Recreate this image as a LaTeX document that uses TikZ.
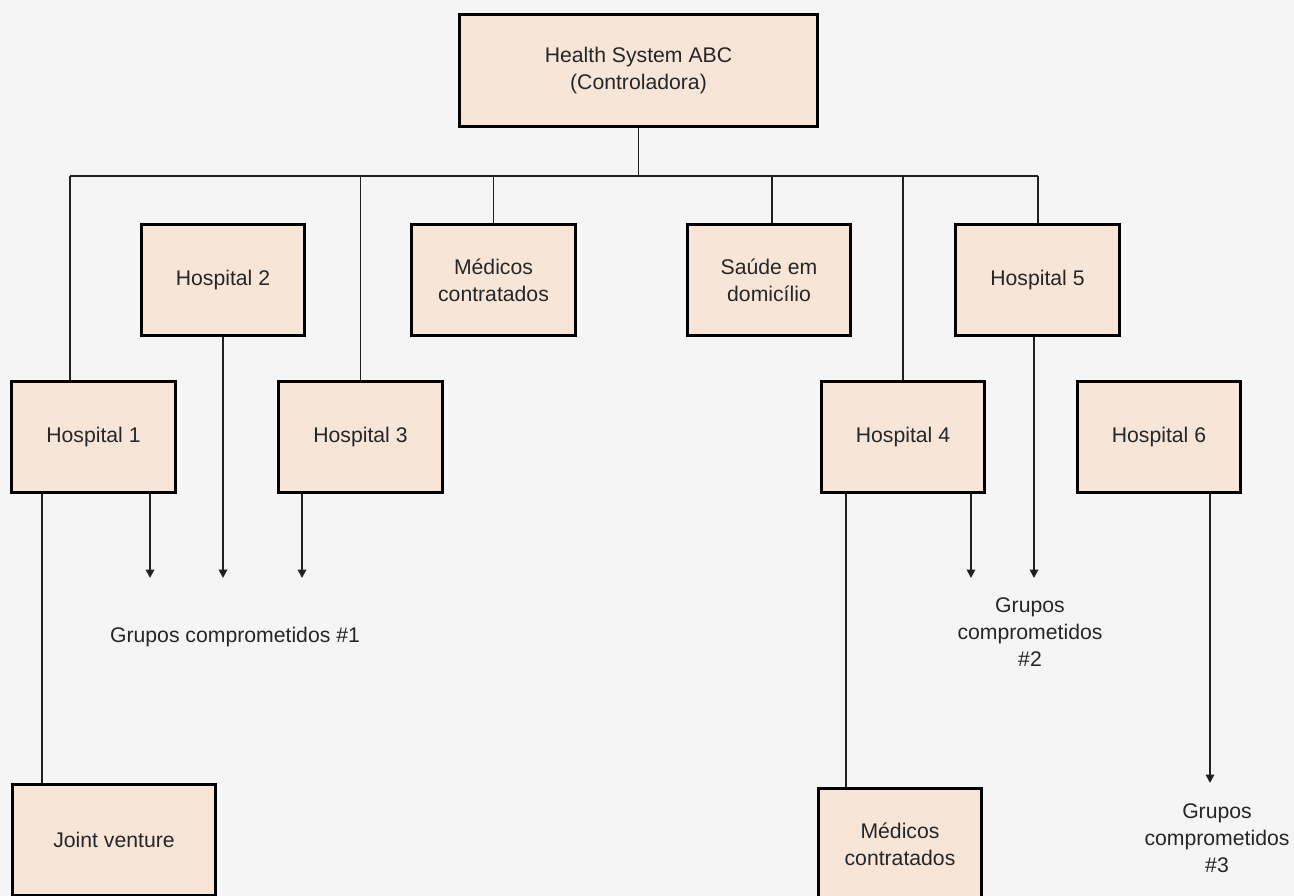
\documentclass[tikz,border=0pt]{standalone}
\usepackage{fontspec}
\setmainfont{Liberation Sans}
\usetikzlibrary{arrows.meta}
\definecolor{bg}{HTML}{F5F5F5}
\definecolor{boxfill}{HTML}{F7E6D7}
\definecolor{ink}{HTML}{231F20}
\definecolor{txt}{HTML}{262626}
\begin{document}
\begin{tikzpicture}[x=1pt,y=-1pt,
  box/.style={draw=black, line width=2.6pt, fill=boxfill, inner sep=0pt,
    minimum width=163.5pt, minimum height=111.5pt, align=center,
    text=txt, font=\fontsize{21.2pt}{27pt}\selectfont},
  lbl/.style={align=center, text=txt, inner sep=0pt, font=\fontsize{21.2pt}{27pt}\selectfont},
  conn/.style={draw=ink, line width=1.8pt},
  arr/.style={conn, -{Triangle[width=8.5pt,length=8.5pt]}}]
\fill[bg] (0,0) rectangle (1294,896);
\useasboundingbox (0,0) rectangle (1294,896);

% boxes
\node[box, minimum width=358.5pt, minimum height=112.5pt] (top) at (638.5,70.5) {Health System ABC\\(Controladora)};
\node[box] (h2) at (223,280) {Hospital 2};
\node[box] (m1) at (493.5,280) {Médicos\\contratados};
\node[box] (sd) at (769,280) {Saúde em\\domicílio};
\node[box] (h5) at (1037.5,280) {Hospital 5};
\node[box] (h1) at (93.5,437) {Hospital 1};
\node[box] (h3) at (360.5,437) {Hospital 3};
\node[box] (h4) at (903,437) {Hospital 4};
\node[box] (h6) at (1159,437) {Hospital 6};
\node[box, minimum width=203.5pt] (jv) at (114,840) {Joint venture};
\node[box] (m2) at (900,844) {Médicos\\contratados};

% labels
\node[lbl] (g1) at (235,637) {Grupos comprometidos \#1};
\node[lbl] (g2) at (1030,632) {Grupos\\comprometidos\\\#2};
\node[lbl] (g3) at (1217,838.5) {Grupos\\comprometidos\\\#3};

% bus
\coordinate (busL) at (70,176);
\coordinate (busR) at (1038,176);
\coordinate (sx) at (772,176);
\draw[conn] (top.south) -- (top.south |- busL);
\draw[conn] (busL) -- (busR);
\draw[conn] (busL) -- (busL |- h1.north);
\draw[conn] (h3.north |- busL) -- (h3.north);
\draw[conn] (m1.north |- busL) -- (m1.north);
\draw[conn] (sx) -- (sx |- sd.north);
\draw[conn] (h4.north |- busL) -- (h4.north);
\draw[conn] (busR) -- (busR |- h5.north);

% arrows to groups #1
\coordinate (t1) at (150,578);
\coordinate (t2) at (223,578);
\coordinate (t3) at (302,578);
\draw[arr] (h1.south -| t1) -- (t1);
\draw[arr] (h2.south) -- (t2);
\draw[arr] (h3.south -| t3) -- (t3);

% arrows to groups #2
\coordinate (t4) at (971,578);
\coordinate (t5) at (1034,578);
\draw[arr] (h4.south -| t4) -- (t4);
\draw[arr] (h5.south -| t5) -- (t5);

% arrow to groups #3
\coordinate (t6) at (1210,783);
\draw[arr] (h6.south -| t6) -- (t6);

% sub entities
\coordinate (jx) at (42,0);
\coordinate (mx) at (846,0);
\draw[conn] (h1.south -| jx) -- (jv.north -| jx);
\draw[conn] (h4.south -| mx) -- (m2.north -| mx);
\end{tikzpicture}
\end{document}
